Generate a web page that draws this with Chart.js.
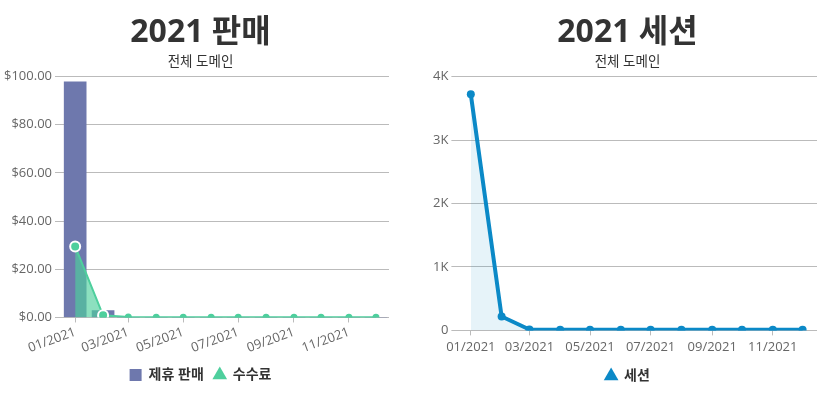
<!DOCTYPE html>
<html>
<head>
<meta charset="utf-8">
<script src="https://cdn.jsdelivr.net/npm/chart.js@4"></script>
<style>
  body { margin: 0; background: #fff; }
  .box { position: absolute; top: 0; height: 400px; }
  #left { left: 0; width: 400px; }
  #right { left: 429px; width: 396px; }
</style>
</head>
<body>
<div class="box" id="left"><canvas id="salesChart"></canvas></div>
<div class="box" id="right"><canvas id="sessionChart"></canvas></div>
<script>
// data
const months = ["2021-01-01", "2021-02-01", "2021-03-01", "2021-04-01", "2021-05-01", "2021-06-01",
  "2021-07-01", "2021-08-01", "2021-09-01", "2021-10-01", "2021-11-01", "2021-12-01"];
const affiliateSales = [97.8, 2.9, 0, 0, 0, 0, 0, 0, 0, 0, 0, 0];
const fees = [29.5, 0.9, 0.2, 0.1, 0.1, 0.1, 0.1, 0.1, 0.1, 0.1, 0.1, 0.1];
const sessions = [3720, 220, 15, 12, 12, 12, 12, 12, 12, 12, 12, 12];
const tickMonths = ["2021-01-01", "2021-03-01", "2021-05-01", "2021-07-01", "2021-09-01", "2021-11-01"];
const tickLabels = ["01/2021", "03/2021", "05/2021", "07/2021", "09/2021", "11/2021"];

const FONT = "'Open Sans', 'Noto Sans CJK KR', sans-serif";
Chart.defaults.font.family = FONT;
Chart.defaults.color = "#666";

// days since Jan 1st, used as x on a linear axis
const dayOf = s => (Date.parse(s + "T00:00:00Z") - Date.parse("2021-01-01T00:00:00Z")) / 864e5;
const tickDays = tickMonths.map(dayOf);
const toPoints = vals => months.map((m, i) => ({ x: dayOf(m), y: vals[i] }));

function xAxis(rotate, pad, min, padRight) {
  return {
    type: "linear",
    offset: false,
    min: min,
    max: 348.5,
    afterBuildTicks: axis => { axis.ticks = tickDays.map(v => ({ value: v })); },
    // keep the plot area where the original sits, titles stay centred on the canvas
    afterFit: axis => { axis.paddingLeft = 0; axis.paddingRight = padRight; },
    ticks: {
      autoSkip: false,
      minRotation: rotate,
      maxRotation: rotate,
      padding: pad,
      font: { size: 13 },
      callback: v => tickLabels[tickDays.indexOf(v)]
    },
    grid: { drawOnChartArea: false, offset: false, color: "#bbb", tickLength: 5 },
    border: { display: false }
  };
}

function titles(text) {
  return {
    title: {
      display: true, text: text, color: "#333",
      font: { size: 32, weight: "bold" }, padding: { top: 14, bottom: 2 }
    },
    subtitle: {
      display: true, text: "전체 도메인", color: "#333",
      font: { size: 13.5 }, padding: { bottom: 6 }
    }
  };
}

// legend: square for bars, triangle for lines, in dataset order
const legendOpts = {
  position: "bottom",
  labels: {
    usePointStyle: true,
    boxWidth: 12,
    boxHeight: 12,
    color: "#333",
    font: { size: 14, weight: "bold" },
    padding: 10,
    generateLabels: chart => Chart.defaults.plugins.legend.labels.generateLabels(chart)
      .sort((a, b) => a.datasetIndex - b.datasetIndex)
      .map(l => {
        const ds = chart.data.datasets[l.datasetIndex];
        return Object.assign(l, {
          pointStyle: ds.type === "bar" ? "rect" : "triangle",
          fillStyle: ds.type === "bar" ? ds.backgroundColor : ds.borderColor,
          strokeStyle: ds.type === "bar" ? ds.backgroundColor : ds.borderColor,
          lineWidth: 0
        });
      })
  }
};

// 2021 판매
new Chart(document.getElementById("salesChart"), {
  type: "bar",
  data: {
    datasets: [
      {
        type: "bar",
        label: "제휴 판매",
        data: toPoints(affiliateSales),
        backgroundColor: "#6e78ad",
        barThickness: 22,
        order: 1
      },
      {
        type: "line",
        label: "수수료",
        data: toPoints(fees),
        borderColor: "#4ecf9d",
        backgroundColor: "rgba(78,207,157,0.65)",
        borderWidth: 2,
        fill: true,
        tension: 0,
        pointRadius: c => c.dataIndex < 2 ? 5 : 3.5,
        pointBorderWidth: c => c.dataIndex < 2 ? 2 : 0,
        pointBorderColor: "#fff",
        pointBackgroundColor: "#4ecf9d",
        clip: { left: 20, right: 20, top: 20, bottom: 0 },
        order: 0
      }
    ]
  },
  options: {
    responsive: true,
    maintainAspectRatio: false,
    animation: false,
    layout: { padding: { left: 1, right: 0, bottom: 8 } },
    plugins: Object.assign(titles("2021 판매"), { legend: legendOpts, tooltip: { enabled: false } }),
    scales: {
      x: xAxis(20, 2, -13.5, 11),
      y: {
        min: 0, max: 100,
        ticks: { stepSize: 20, font: { size: 13 }, callback: v => "$" + v.toFixed(2) },
        grid: { color: "#bbb" },
        border: { display: false }
      }
    }
  }
});

// 2021 세션
new Chart(document.getElementById("sessionChart"), {
  type: "line",
  data: {
    datasets: [
      {
        type: "line",
        label: "세션",
        data: toPoints(sessions),
        borderColor: "#0b89c7",
        backgroundColor: "rgba(11,137,199,0.1)",
        borderWidth: 4,
        fill: true,
        tension: 0,
        pointRadius: 4,
        pointBorderWidth: 0,
        pointBackgroundColor: "#0b89c7",
        clip: { left: 20, right: 20, top: 20, bottom: 0 }
      }
    ]
  },
  options: {
    responsive: true,
    maintainAspectRatio: false,
    animation: false,
    layout: { padding: { left: 1, right: 0, bottom: 7 } },
    plugins: Object.assign(titles("2021 세션"), { legend: legendOpts, tooltip: { enabled: false } }),
    scales: {
      x: xAxis(0, 4, -11.5, 8),
      y: {
        min: 0, max: 4000,
        ticks: { stepSize: 1000, font: { size: 13 }, callback: v => v === 0 ? "0" : (v / 1000) + "K" },
        grid: { color: "#bbb" },
        border: { display: false }
      }
    }
  }
});
</script>
</body>
</html>
